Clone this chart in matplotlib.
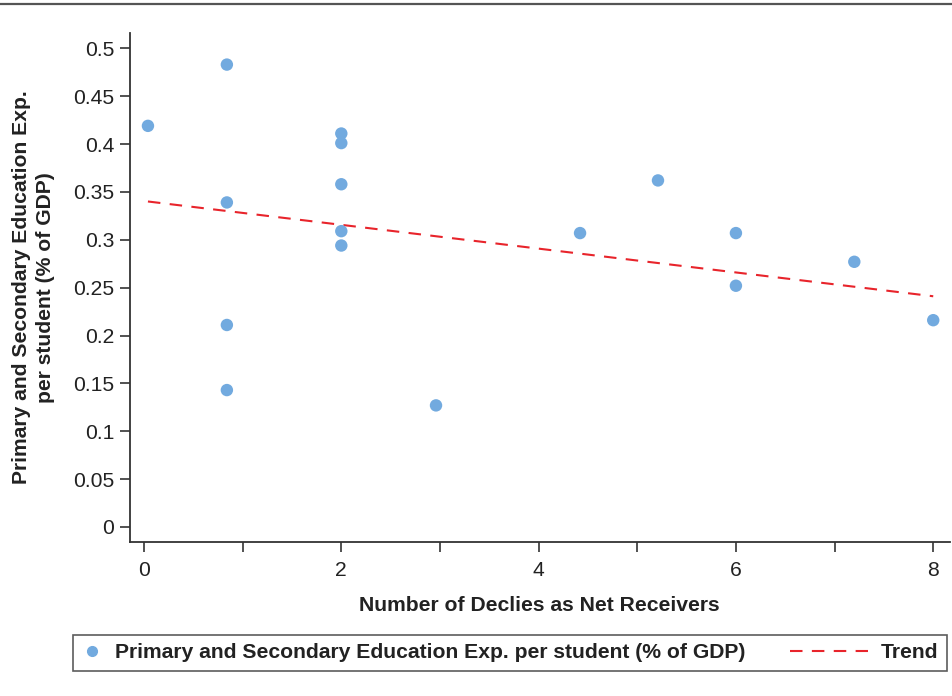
import matplotlib
matplotlib.use("Agg")
import matplotlib.pyplot as plt
from matplotlib.lines import Line2D
from matplotlib.legend_handler import HandlerLine2D

plt.rcParams['font.family'] = ['Liberation Sans', 'DejaVu Sans']

deciles = [0.04, 0.84, 0.84, 0.84, 0.84, 2.0, 2.0, 2.0, 2.0, 2.0, 2.96, 4.42, 5.21, 6.0, 6.0, 7.2, 8.0]
edu_exp = [0.419, 0.483, 0.339, 0.211, 0.143, 0.411, 0.401, 0.358, 0.309, 0.294, 0.127, 0.307, 0.362, 0.307, 0.252, 0.277, 0.216]
trend_x = [0.04, 8.0]
trend_y = [0.340, 0.241]
xticks = [0, 2, 4, 6, 8]
yticks = [0, 0.05, 0.1, 0.15, 0.2, 0.25, 0.3, 0.35, 0.4, 0.45, 0.5]
ytick_labels = ['0', '0.05', '0.1', '0.15', '0.2', '0.25', '0.3', '0.35', '0.4', '0.45', '0.5']
series_label = 'Primary and Secondary Education Exp. per student (% of GDP)'
trend_label = 'Trend'

FS = 15.2
TXT = '#222222'
DOT = '#72aadf'
RED = '#e8242b'
DASH = (0, (6, 4.5))

W, H = 952, 696
fig = plt.figure(figsize=(W/100, H/100), dpi=100)
ax = fig.add_axes([129.5/W, 1 - 542/H, (950-129.5)/W, (542-33)/H])

ax.scatter(deciles, edu_exp, s=80, color=DOT, edgecolors='none', zorder=3)
ax.plot(trend_x, trend_y, color=RED, linestyle=DASH, linewidth=1.5, zorder=2)

ax.set_xlim(-0.147, 8.17)
ax.set_ylim(-0.0157, 0.516)
ax.set_xticks(xticks)
ax.set_xticklabels([str(v) for v in xticks])
ax.set_xticks([1, 3, 5, 7], minor=True)
ax.set_yticks(yticks)
ax.set_yticklabels(ytick_labels)
ax.tick_params(axis='both', which='both', direction='out', length=7, width=1.2,
               color='#333333', labelsize=FS, labelcolor=TXT)
ax.tick_params(axis='y', pad=4)
ax.tick_params(axis='x', pad=6.5)
for s in ['top', 'right']:
    ax.spines[s].set_visible(False)
for s in ['left', 'bottom']:
    ax.spines[s].set_linewidth(1.3)
    ax.spines[s].set_color('#333333')

ax.set_xlabel('Number of Declies as Net Receivers', fontsize=FS, fontweight='bold', color=TXT, labelpad=12)
ax.set_ylabel('Primary and Secondary Education Exp.\nper student (% of GDP)', fontsize=FS,
              fontweight='bold', color=TXT, linespacing=1.3)
ax.yaxis.set_label_coords((55 - 129.5) / (950 - 129.5), 0.5)

# top rule
fig.add_artist(Line2D([0, 1], [1 - 3.5/H, 1 - 3.5/H], transform=fig.transFigure, color='#555555', linewidth=1.6))


class HandlerExtLine(HandlerLine2D):
    def __init__(self, ext, **kw):
        super().__init__(**kw)
        self.ext = ext

    def create_artists(self, legend, orig_handle, xdescent, ydescent, width, height, fontsize, trans):
        return super().create_artists(legend, orig_handle, xdescent + self.ext, ydescent,
                                      width + self.ext, height, fontsize, trans)


h_dot = Line2D([], [], marker='o', linestyle='none', color=DOT, markersize=7)
h_trend = Line2D([], [], color=RED, linestyle=DASH, linewidth=1.5)
leg = fig.legend([h_dot, h_trend], [series_label, trend_label], loc='center',
                 bbox_to_anchor=(72.7/W, 1 - 673/H, (947-72.7)/W, 40/H), mode='expand',
                 ncol=2, frameon=True, fancybox=False, edgecolor='#333333',
                 prop={'weight': 'bold', 'size': FS}, handlelength=1.0, handletextpad=0.6,
                 borderpad=0.4, borderaxespad=0,
                 handler_map={h_trend: HandlerExtLine(ext=41)})
leg.get_frame().set_linewidth(1.2)
for t in leg.get_texts():
    t.set_color(TXT)

fig.savefig('out.png', dpi=100)
